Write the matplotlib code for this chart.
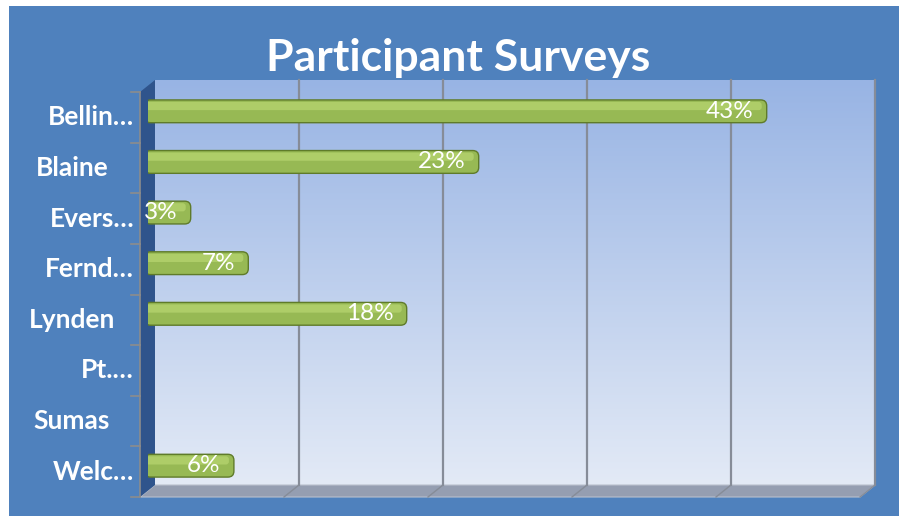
import matplotlib.pyplot as plt
import numpy as np
from matplotlib.patches import Rectangle, Polygon, FancyBboxPatch

# ============================================
# DATA
# ============================================

categories = ['Bellin…', 'Blaine', 'Evers…', 'Fernd…', 'Lynden', 'Pt.…', 'Sumas', 'Welc…']
shares = [0.43, 0.23, 0.03, 0.07, 0.18, 0.0, 0.0, 0.06]
x_ticks = [0.0, 0.1, 0.2, 0.3, 0.4, 0.5]
title = 'Participant Surveys'

# ============================================
# STYLE / GEOMETRY (pixels, 899x516 canvas)
# ============================================

COLORS = {
    'bg':        '#4f81bd',
    'wall_top':  '#98b4e4',
    'wall_bot':  '#e3eaf6',
    'side':      '#2f548c',
    'floor':     '#959eb1',
    'grid':      '#868c98',
    'bar':       '#97b954',
    'bar_hi':    '#b6d470',
    'bar_edge':  '#5f7b2a',
}
FONT = 'Lato'
W, H = 899, 516
DX, DY = 7.5, 6.0          # half depth offset of the 3d box
PL, PR, PT, PB = 147.5, 867.5, 86.0, 491.0   # middle-depth plane

fig = plt.figure(figsize=(W / 100, H / 100), dpi=100, facecolor='white')

# background axes in pixel coordinates for the 3d box decoration
bg = fig.add_axes([0, 0, 1, 1], zorder=0)
bg.set_xlim(0, W)
bg.set_ylim(H, 0)
bg.axis('off')

bg.add_patch(Rectangle((9, 6), W - 9, H - 6, color=COLORS['bg'], lw=0))

# back wall with vertical gradient
bl, br, bt, bb = PL + DX, PR + DX, PT - DY, PB - DY
grad = np.linspace(0, 1, 256).reshape(-1, 1)
c0 = np.array(plt.matplotlib.colors.to_rgb(COLORS['wall_top']))
c1 = np.array(plt.matplotlib.colors.to_rgb(COLORS['wall_bot']))
img = c0 + (c1 - c0) * grad[..., None]
bg.imshow(img, extent=(bl, br, bb, bt), aspect='auto', zorder=1)

# floor
fl, fr, fb = PL - DX, PR - DX, PB + DY
bg.add_patch(Polygon([(bl, bb), (br, bb), (fr, fb), (fl, fb)], closed=True,
                     facecolor=COLORS['floor'], edgecolor='#b9c0cc', lw=0.8, zorder=2))

# left side wall
bg.add_patch(Polygon([(fl, PT + DY), (bl, bt), (bl, bb), (fl, fb)], closed=True,
                     facecolor=COLORS['side'], edgecolor='none', zorder=2))

# gridlines on the back wall and floor
for v in x_ticks[1:]:
    gx = bl + v / x_ticks[-1] * (br - bl)
    bg.plot([gx, gx], [bt, bb], color=COLORS['grid'], lw=1.6, zorder=3)
    bg.plot([gx, gx - 2 * DX], [bb, fb], color=COLORS['grid'], lw=1.0, zorder=3)

# left axis line and tick marks
bg.plot([fl, fl], [PT + DY, fb], color='#8c8c8c', lw=1.2, zorder=3)
n = len(categories)
for k in range(n + 1):
    ty = PT + DY + k * (PB - PT) / n
    bg.plot([fl - 9, fl], [ty, ty], color='#8c8c8c', lw=1.2, zorder=3)

# ============================================
# BARS (middle-depth plane axes)
# ============================================

ax = fig.add_axes([PL / W, 1 - PB / H, (PR - PL) / W, (PB - PT) / H], zorder=1)
ax.patch.set_visible(False)
for s in ax.spines.values():
    s.set_visible(False)
ax.set_xlim(x_ticks[0], x_ticks[-1])
ax.set_ylim(n - 0.5, -0.5)
ax.set_xticks([])
ax.set_yticks([])

ypos = np.arange(n)
bars = ax.barh(ypos, shares, height=0.45, color=COLORS['bar'])
xpx = (x_ticks[-1] - x_ticks[0]) / (PR - PL)
ypx = n / (PB - PT)
for b, val in zip(bars, shares):
    b.set_visible(False)
    if val <= 0:
        continue
    x0, y0, w, h = b.get_x(), b.get_y(), b.get_width(), b.get_height()
    x0 -= 3 * xpx
    w += 3 * xpx
    body = FancyBboxPatch((x0, y0), w, h,
                          boxstyle=f'round,pad=0,rounding_size={6 * xpx}',
                          mutation_aspect=ypx / xpx,
                          facecolor=COLORS['bar'], edgecolor=COLORS['bar_edge'], lw=1.0)
    ax.add_patch(body)
    hi = FancyBboxPatch((x0 + 1 * xpx, y0 + 2 * ypx), w - 6 * xpx, h * 0.36,
                        boxstyle=f'round,pad=0,rounding_size={3 * xpx}',
                        mutation_aspect=ypx / xpx,
                        facecolor=COLORS['bar_hi'], edgecolor='none', alpha=0.75)
    ax.add_patch(hi)
    ax.annotate(f'{val * 100:.0f}%', (val, b.get_y() + h / 2), xytext=(-9.5, 0),
                textcoords='offset points', ha='right', va='center',
                color='white', fontsize=17.5, family=FONT)

# category labels (front plane)
for i, lab in enumerate(categories):
    cy = 1 - (PT + DY + (i + 0.5) * (PB - PT) / n) / H
    if lab.endswith('…'):
        fig.text(134 / W, cy, lab, ha='right', va='center', color='white',
                 fontsize=19, fontweight='bold', family=FONT)
    else:
        fig.text(72 / W, cy, lab, ha='center', va='center', color='white',
                 fontsize=19, fontweight='bold', family=FONT)

fig.text(458 / W, 1 - 58 / H, title, ha='center', va='center', color='white',
         fontsize=32, fontweight='bold', family=FONT, zorder=5)

plt.savefig('out.png', dpi=100, facecolor='white')
